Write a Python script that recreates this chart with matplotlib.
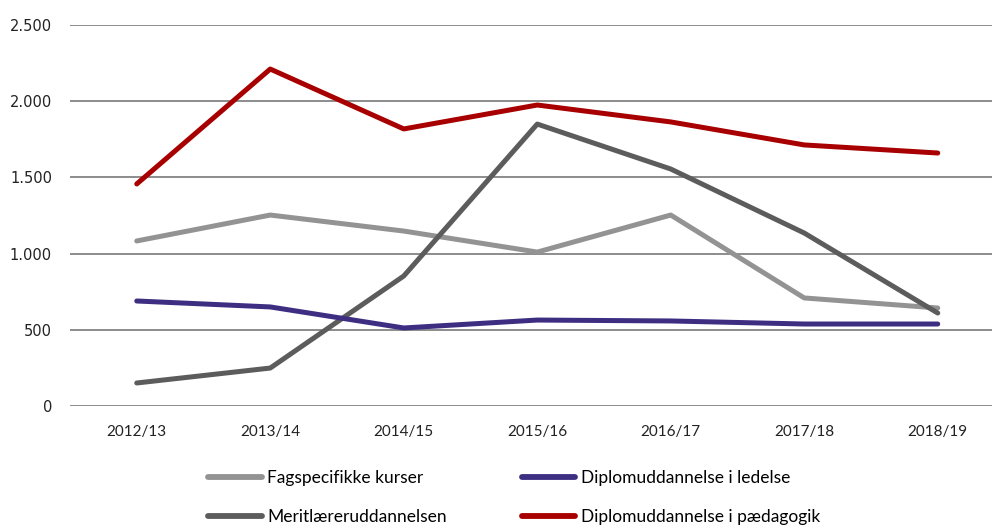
import matplotlib
matplotlib.use("Agg")
import matplotlib.pyplot as plt
from matplotlib.ticker import FuncFormatter

years = ["2012/13", "2013/14", "2014/15", "2015/16", "2016/17", "2017/18", "2018/19"]
fagspecifikke = [1083, 1253, 1148, 1010, 1253, 709, 643]
meritlaerer = [151, 249, 853, 1850, 1555, 1135, 610]
diplom_ledelse = [689, 650, 512, 564, 558, 538, 538]
diplom_paedagogik = [1457, 2211, 1818, 1975, 1864, 1713, 1660]

fig = plt.figure(figsize=(9.92, 5.27), dpi=100)
ax = fig.add_axes([70/992, 121/527, (992-70)/992, (406-25)/527])

x = list(range(len(years)))
lw = 3.6
l1, = ax.plot(x, fagspecifikke, color="#939393", lw=lw, solid_capstyle="round", label="Fagspecifikke kurser")
l3, = ax.plot(x, meritlaerer, color="#5c5c5c", lw=lw, solid_capstyle="round", label="Meritlæreruddannelsen")
l2, = ax.plot(x, diplom_ledelse, color="#3d2e82", lw=lw, solid_capstyle="round", label="Diplomuddannelse i ledelse")
l4, = ax.plot(x, diplom_paedagogik, color="#a80000", lw=lw, solid_capstyle="round", label="Diplomuddannelse i pædagogik")

ax.set_xlim(-0.5, -0.5 + (992-70)/133.5)
ax.set_ylim(0, 2500)
ax.set_yticks([0, 500, 1000, 1500, 2000, 2500])
ax.yaxis.set_major_formatter(FuncFormatter(lambda v, p: f"{int(v):,}".replace(",", ".")))
ax.set_xticks(x)
ax.set_xticklabels(years, fontfamily="Lato", fontsize=11)
for t in ax.get_yticklabels():
    t.set_fontfamily("DejaVu Sans")
    t.set_fontsize(10.5)
ax.tick_params(axis="both", length=0, colors="#222222")
ax.tick_params(axis="y", pad=13)
ax.tick_params(axis="x", pad=14)
ax.grid(axis="y", color="#8c8c8c", lw=1.4)
ax.set_axisbelow(True)
for s in ax.spines.values():
    s.set_visible(False)

fs = 12.5
leg = fig.legend(handles=[l1, l3, l2, l4], ncol=2, loc="upper left",
                 bbox_to_anchor=(203/992, 1 - 465/527), frameon=False,
                 prop={"family": "Lato", "size": fs}, handlelength=3.1,
                 handletextpad=0.3, columnspacing=4.3, labelspacing=1.32,
                 borderaxespad=0, borderpad=0.3)
for h in leg.legend_handles:
    h.set_linewidth(4.2)

fig.savefig("out.png", dpi=100)
